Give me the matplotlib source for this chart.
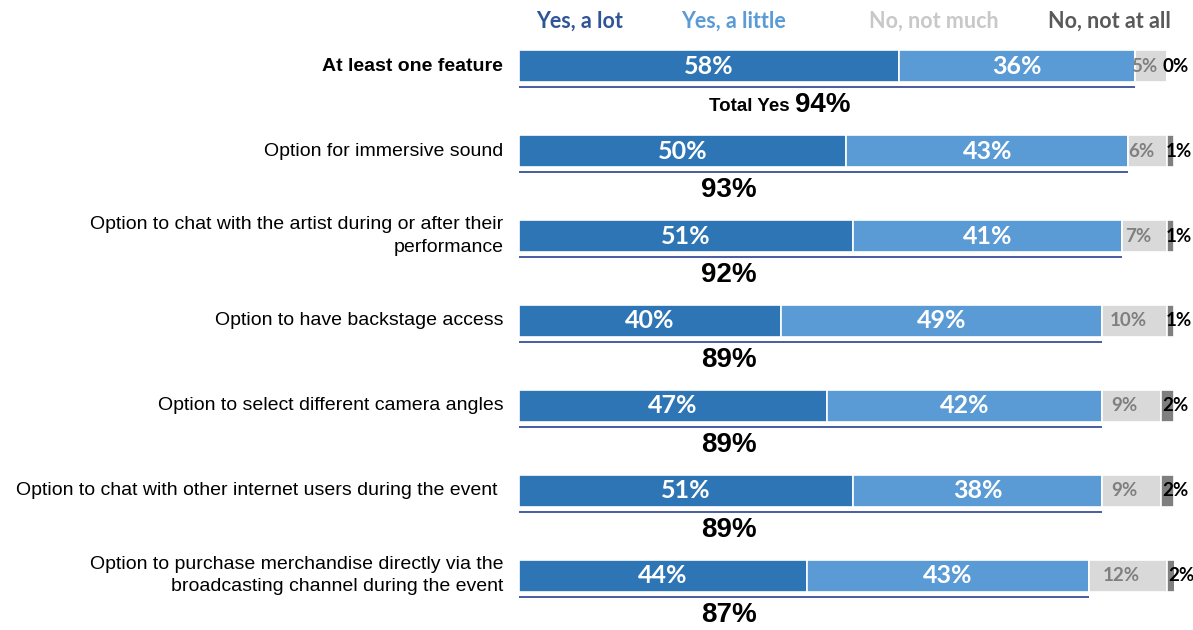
import numpy as np
import matplotlib
matplotlib.use("Agg")
import matplotlib.pyplot as plt

# Survey data: share of respondents per answer, per feature
features = [
    "At least one feature",
    "Option for immersive sound",
    "Option to chat with the artist during or after their\nperformance",
    "Option to have backstage access",
    "Option to select different camera angles",
    "Option to chat with other internet users during the event ",
    "Option to purchase merchandise directly via the\nbroadcasting channel during the event",
]
yes_lot = [58, 50, 51, 40, 47, 51, 44]
yes_little = [36, 43, 41, 49, 42, 38, 43]
no_much = [5, 6, 7, 10, 9, 9, 12]
no_all = [0, 1, 1, 1, 2, 2, 2]
total_yes = [94, 93, 92, 89, 89, 89, 87]

answers = ["Yes, a lot", "Yes, a little", "No, not much", "No, not at all"]
colors = ["#2E75B6", "#5B9BD5", "#D9D9D9", "#7F7F7F"]
head_colors = ["#2F5597", "#5B9BD5", "#C8C8C8", "#595959"]
label_colors = ["white", "white", "#7F7F7F", "black"]

fig = plt.figure(figsize=(11.93, 6.30), dpi=100)
ax = fig.add_axes([0.435, 0.0, 0.549, 1.0])

n = len(features)
y = np.arange(n)
bar_h = 0.38
series = [yes_lot, yes_little, no_much, no_all]

left = np.zeros(n)
for k, vals in enumerate(series):
    vals = np.array(vals, dtype=float)
    ax.barh(y, vals, left=left, height=bar_h, color=colors[k],
            edgecolor="white", linewidth=1.2)
    for i in range(n):
        txt = f"{int(vals[i])}%"
        if k == 3:
            # tiny segment: label drawn over/just past it
            ax.text(left[i] + vals[i] / 2 + 1.2, y[i], txt, ha="center",
                    va="center", color=label_colors[k], fontsize=13.5,
                    fontweight="bold", family="Lato")
        elif k == 2:
            ax.text(left[i] + vals[i] / 2 - 1.0, y[i], txt, ha="center",
                    va="center", color=label_colors[k], fontsize=13.5,
                    fontweight="bold", family="Lato")
        else:
            ax.text(left[i] + vals[i] / 2, y[i], txt, ha="center",
                    va="center", color=label_colors[k], fontsize=18,
                    fontweight="bold", family="Lato")
    left += vals

# underline and total "yes" under each bar
for i in range(n):
    ax.plot([0, total_yes[i]], [y[i] + 0.25, y[i] + 0.25],
            color="#3A4F9A", linewidth=1.3, solid_capstyle="butt")
    if i == 0:
        ax.text(42.2, y[i] + 0.47, "Total Yes ", ha="right",
                va="center", fontsize=13.5, fontweight="bold",
                family="Liberation Sans")
        ax.text(42.2, y[i] + 0.46, f"{total_yes[i]}%",
                ha="left", va="center", fontsize=20, fontweight="bold",
                family="Liberation Sans")
    else:
        ax.text(32.0, y[i] + 0.46, f"{total_yes[i]}%", ha="center",
                va="center", fontsize=20, fontweight="bold",
                family="Liberation Sans")

# feature names to the left of the bars
for i, name in enumerate(features):
    ax.text(-2.4, y[i], name, ha="right", va="center", fontsize=14,
            fontweight="bold" if i == 0 else "normal",
            family="Liberation Sans", linespacing=1.4)

# column headers
head_x = [9.3, 32.7, 63.4, 90.1]
for k, name in enumerate(answers):
    ax.text(head_x[k], -0.53, name, ha="center", va="center", fontsize=15.5,
            fontweight="bold", color=head_colors[k], family="Lato")

ax.set_xlim(0, 100)
ax.set_ylim(n - 1 + 0.64, -0.78)
ax.axis("off")

fig.savefig("out.png", dpi=100)
